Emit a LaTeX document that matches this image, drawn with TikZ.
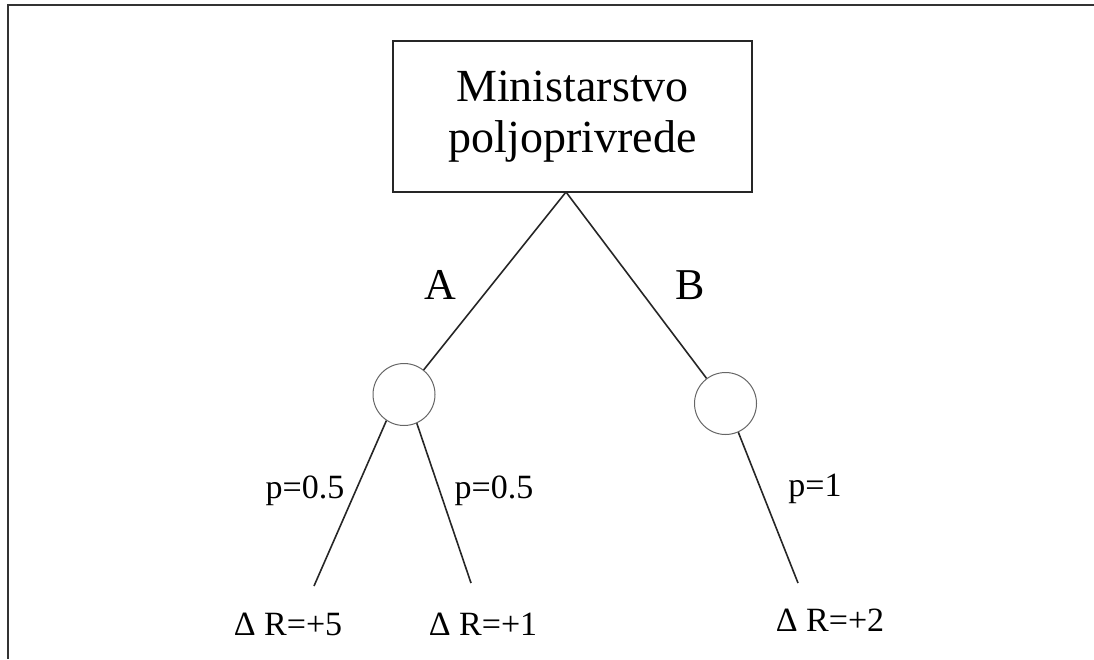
\documentclass[tikz,border=0pt]{standalone}
\usepackage{fontspec}
\setmainfont{Liberation Serif}
\begin{document}
\begin{tikzpicture}[x=1pt,y=-1pt,
  edge/.style={line width=1.6pt,black!85},
  chance/.style={circle,draw=black!60,line width=1pt,minimum size=62pt,inner sep=0pt},
  boxnode/.style={draw=black!85,line width=1.8pt,minimum width=359pt,minimum height=151pt,inner sep=0pt,align=center,font=\fontsize{46}{48}\selectfont},
  biglbl/.style={font=\fontsize{44}{48}\selectfont,inner sep=0pt},
  plbl/.style={font=\fontsize{34}{38}\selectfont,inner sep=0pt,anchor=base},
  rlbl/.style={font=\fontsize{34}{38}\selectfont,inner sep=0pt,anchor=base}]
\useasboundingbox (0,0) rectangle (1094,659);
\draw[line width=2pt,black!80] (1094,5) -- (8,5) -- (8,659);
\node[boxnode] (box) at (572.5,116.5) {\raisebox{3pt}{Ministarstvo}\\poljoprivrede};
\coordinate (apex) at (566,192);
\node[chance] (cA) at (404,394.5) {};
\node[chance] (cB) at (725.5,403.5) {};
\coordinate (eA1) at (314,586);
\coordinate (eA2) at (471,583);
\coordinate (eB) at (798,583);
\draw[edge] (apex) -- (cA);
\draw[edge] (apex) -- (cB);
\draw[edge] (cA.-124) -- (eA1);
\draw[edge] (cA.-66) -- (eA2);
\draw[edge] (cB.-66) -- (eB);
\node[biglbl] (lA) at (440,285) {A};
\node[biglbl] (lB) at (690,285) {B};
\node[plbl] (p1) at (305,498) {p=0.5};
\node[plbl] (p2) at (494,498) {p=0.5};
\node[plbl] (p3) at (815,496) {p=1};
\node[rlbl] (r1) at (288,635) {Δ R=+5};
\node[rlbl] (r2) at (483,635) {Δ R=+1};
\node[rlbl] (r3) at (830,631) {Δ R=+2};
\end{tikzpicture}
\end{document}
